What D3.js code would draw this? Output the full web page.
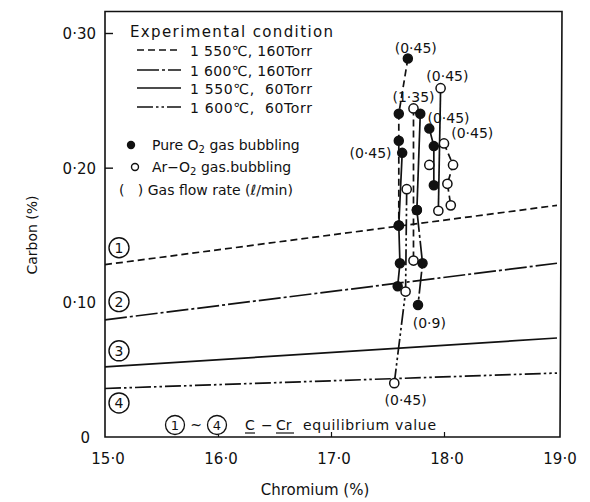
<!DOCTYPE html>
<html lang="en">
<head>
<meta charset="utf-8">
<title>Carbon vs Chromium</title>
<script src="https://d3js.org/d3.v7.min.js"></script>
<style>
  body { margin: 0; background: #fff; }
  text { font-family: "DejaVu Sans", sans-serif; fill: #111; }
</style>
</head>
<body>
<svg id="chart" width="590" height="502"></svg>
<script>
// axis values
const xTicks = [15, 16, 17, 18, 19];
const xTickLabels = ["15·0", "16·0", "17·0", "18·0", "19·0"];
const yTicks = [0, 0.1, 0.2, 0.3];
const yTickLabels = ["0", "0·10", "0·20", "0·30"];

// experimental conditions (legend order)
const conditions = ["1 550℃, 160Torr", "1 600℃, 160Torr", "1 550℃,  60Torr", "1 600℃,  60Torr"];

// C-Cr equilibrium lines, carbon at Cr = 15 and Cr = 19
const eqCr = [15, 19];
const eqC = [
  [0.128, 0.172],
  [0.087, 0.129],
  [0.052, 0.0735],
  [0.036, 0.0475]
];

// decarburization runs: condition index, gas (O2 = pure, Ar = Ar-O2), points [Cr, C]
const runCond = [0, 2, 0, 3, 2, 1, 2, 2, 0, 1];
const runGas = ["O2", "O2", "Ar", "Ar", "O2", "O2", "O2", "Ar", "Ar", "Ar"];
const runPoints = [
  [[17.68, 0.281], [17.60, 0.240], [17.60, 0.220], [17.60, 0.157]],
  [[17.63, 0.211], [17.60, 0.157], [17.61, 0.129], [17.59, 0.112]],
  [[17.73, 0.244], [17.73, 0.131]],
  [[17.67, 0.184], [17.66, 0.108], [17.56, 0.040]],
  [[17.79, 0.240], [17.76, 0.1685]],
  [[17.76, 0.1685], [17.81, 0.129], [17.77, 0.098]],
  [[17.87, 0.229], [17.91, 0.216], [17.91, 0.187]],
  [[17.97, 0.259], [17.95, 0.168]],
  [[18.00, 0.218], [18.08, 0.202], [18.03, 0.188], [18.06, 0.172]],
  [[17.87, 0.202]]
];

// gas flow rate labels (l/min) and where they sit
const flowText = ["(0·45)", "(0·45)", "(1·35)", "(0·45)", "(0·45)", "(0·45)", "(0·9)", "(0·45)"];
const flowCr = [17.75, 18.03, 17.73, 18.04, 18.25, 17.35, 17.87, 17.66];
const flowC = [0.289, 0.268, 0.2524, 0.2368, 0.2257, 0.2108, 0.0846, 0.0275];

const dashes = ["7,4", "22,3,3,3", null, "16,3,2.5,3,2.5,3"];

const svg = d3.select("#chart");

const x = d3.scaleLinear().domain([15, 19]).range([105, 557]);
const y = d3.scaleLinear().domain([0, 0.3]).range([437, 33]);

// frame
svg.append("path")
  .attr("d", `M${x(15)},${y(0.316)} L${x(19) + 5},${y(0.316)} L${x(19) + 3},${y(0)} L${x(15)},${y(0)} Z`)
  .attr("fill", "none")
  .attr("stroke", "#111")
  .attr("stroke-width", 1.6);

// inward ticks
const xAxis = d3.axisBottom(x).tickValues(xTicks.slice(1, 4)).tickSize(-5).tickFormat("");
svg.append("g").attr("transform", `translate(0,${y(0)})`).call(xAxis)
  .call(g => g.select(".domain").remove())
  .selectAll("line").attr("stroke", "#111").attr("stroke-width", 1.2);

const yAxis = d3.axisLeft(y).tickValues([0.2, 0.3]).tickSize(-8).tickFormat("");
svg.append("g").attr("transform", `translate(${x(15)},0)`).call(yAxis)
  .call(g => g.select(".domain").remove())
  .selectAll("line").attr("stroke", "#111").attr("stroke-width", 1.4);

// tick labels
svg.selectAll(".xl").data(xTicks).enter().append("text")
  .attr("x", d => x(d) + 3)
  .attr("y", y(0) + 27)
  .attr("text-anchor", "middle")
  .attr("font-size", 15)
  .text((d, i) => xTickLabels[i]);

svg.selectAll(".yl").data(yTicks).enter().append("text")
  .attr("x", (d, i) => i === 0 ? 90 : 96)
  .attr("y", d => y(d) + 6)
  .attr("text-anchor", "end")
  .attr("font-size", 15)
  .text((d, i) => yTickLabels[i]);

// axis titles
svg.append("text")
  .attr("x", 315).attr("y", 495)
  .attr("text-anchor", "middle")
  .attr("font-size", 15)
  .text("Chromium  (%)");

svg.append("text")
  .attr("transform", "translate(37,235) rotate(-90)")
  .attr("text-anchor", "middle")
  .attr("font-size", 14)
  .text("Carbon  (%)");

// equilibrium lines
const line = d3.line().x(d => x(d[0])).y(d => y(d[1]));
eqC.forEach((c, i) => {
  svg.append("path")
    .attr("d", line(eqCr.map((cr, j) => [cr, c[j]])))
    .attr("fill", "none")
    .attr("stroke", "#111")
    .attr("stroke-width", 1.7)
    .attr("stroke-dasharray", dashes[i]);
});

// circled numbers on the left
const circY = [0.1405, 0.1005, 0.0640, 0.0253];
circY.forEach((c, i) => {
  const g = svg.append("g").attr("transform", `translate(${x(15) + 14},${y(c)})`);
  g.append("circle").attr("r", 10).attr("fill", "#fff").attr("stroke", "#111").attr("stroke-width", 1.4);
  g.append("text").attr("y", 5).attr("text-anchor", "middle").attr("font-size", 14).text(i + 1);
});

// run lines
runPoints.forEach((pts, i) => {
  if (pts.length < 2) return;
  svg.append("path")
    .attr("d", line(pts))
    .attr("fill", "none")
    .attr("stroke", "#111")
    .attr("stroke-width", 1.7)
    .attr("stroke-dasharray", dashes[runCond[i]]);
});

// run markers
runPoints.forEach((pts, i) => {
  svg.selectAll(null).data(pts).enter().append("circle")
    .attr("cx", d => x(d[0]))
    .attr("cy", d => y(d[1]))
    .attr("r", runGas[i] === "O2" ? 4.5 : 4.6)
    .attr("fill", runGas[i] === "O2" ? "#111" : "#fff")
    .attr("stroke", "#111")
    .attr("stroke-width", 1.5);
});

// flow rate labels
svg.selectAll(".fl").data(flowText).enter().append("text")
  .attr("x", (d, i) => x(flowCr[i]))
  .attr("y", (d, i) => y(flowC[i]) + 5)
  .attr("text-anchor", "middle")
  .attr("font-size", 14)
  .text(d => d);

// legend
const lg = svg.append("g");
lg.append("text").attr("x", 130).attr("y", 37).attr("font-size", 15)
  .attr("textLength", 203).text("Experimental condition");

conditions.forEach((t, i) => {
  const ly = [50, 70, 88, 107][i];
  lg.append("line").attr("x1", 137).attr("x2", 181).attr("y1", ly).attr("y2", ly)
    .attr("stroke", "#111").attr("stroke-width", 1.7).attr("stroke-dasharray", dashes[i]);
  lg.append("text").attr("x", 190).attr("y", ly + 6).attr("font-size", 14)
    .attr("xml:space", "preserve").attr("textLength", 122).text(t);
});

lg.append("circle").attr("cx", 131).attr("cy", 145).attr("r", 4.2).attr("fill", "#111");
const t1 = lg.append("text").attr("x", 152).attr("y", 150).attr("font-size", 14);
t1.append("tspan").text("Pure O");
t1.append("tspan").attr("font-size", 10).attr("dy", 3).text("2");
t1.append("tspan").attr("dy", -3).text(" gas bubbling");

lg.append("circle").attr("cx", 135).attr("cy", 167).attr("r", 3.5).attr("fill", "#fff")
  .attr("stroke", "#111").attr("stroke-width", 1.4);
const t2 = lg.append("text").attr("x", 152).attr("y", 172).attr("font-size", 14);
t2.append("tspan").text("Ar−O");
t2.append("tspan").attr("font-size", 10).attr("dy", 3).text("2");
t2.append("tspan").attr("dy", -3).text(" gas.bubbling");

lg.append("text").attr("x", 119).attr("y", 195).attr("font-size", 14)
  .attr("xml:space", "preserve").text("(   ) Gas flow rate (ℓ/min)");

// bottom note: circled 1 ~ 4 C-Cr equilibrium value
const note = svg.append("g");
[[175, "1"], [217, "4"]].forEach(([cx, s]) => {
  note.append("circle").attr("cx", cx).attr("cy", 425).attr("r", 9.5)
    .attr("fill", "#fff").attr("stroke", "#111").attr("stroke-width", 1.3);
  note.append("text").attr("x", cx).attr("y", 430).attr("text-anchor", "middle").attr("font-size", 13).text(s);
});
note.append("text").attr("x", 196).attr("y", 430).attr("text-anchor", "middle").attr("font-size", 14).text("~");
note.append("text").attr("x", 245).attr("y", 430).attr("font-size", 14).text("C");
note.append("text").attr("x", 261).attr("y", 430).attr("font-size", 14).text("−");
note.append("text").attr("x", 276).attr("y", 430).attr("font-size", 14).text("Cr");
note.append("line").attr("x1", 245).attr("x2", 255).attr("y1", 433).attr("y2", 433).attr("stroke", "#111").attr("stroke-width", 1.2);
note.append("line").attr("x1", 276).attr("x2", 294).attr("y1", 433).attr("y2", 433).attr("stroke", "#111").attr("stroke-width", 1.2);
note.append("text").attr("x", 303).attr("y", 430).attr("font-size", 14)
  .attr("textLength", 133).text("equilibrium value");
</script>
</body>
</html>
